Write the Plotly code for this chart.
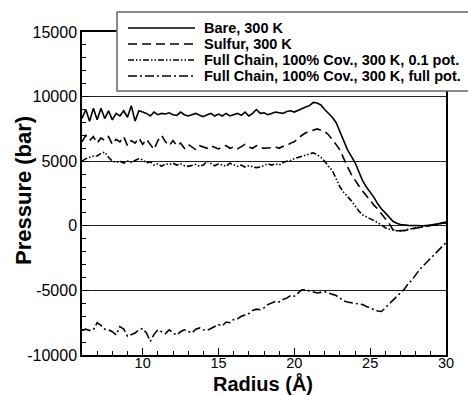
import plotly.graph_objects as go

# ---------------- data ----------------
r_bare = [6.0, 6.25, 6.5, 6.75, 7.0, 7.25, 7.5, 7.75, 8.0, 8.25, 8.5, 8.75, 9.0, 9.25, 9.5, 9.75,
          10.0, 10.25, 10.5, 10.75, 11.0, 11.25, 11.5, 11.75, 12.0, 12.25, 12.5, 12.75, 13.0, 13.25,
          13.5, 13.75, 14.0, 14.25, 14.5, 14.75, 15.0, 15.25, 15.5, 15.75, 16.0, 16.25, 16.5, 16.75,
          17.0, 17.25, 17.5, 17.75, 18.0, 18.25, 18.5, 18.75, 19.0, 19.25, 19.5, 19.75, 20.0, 20.25,
          20.5, 20.75, 21.0, 21.25, 21.5, 21.75, 22.0, 22.25, 22.5, 22.75, 23.0, 23.25, 23.5, 23.75,
          24.0, 24.25, 24.5, 24.75, 25.0, 25.25, 25.5, 25.75, 26.0, 26.25, 26.5, 26.75, 27.0, 27.5,
          28.0, 28.5, 29.0, 29.5, 30.0]
p_bare = [8300, 9000, 8100, 9100, 8200, 9100, 8300, 8900, 8200, 8700, 8500, 8900, 8400, 9300, 8100, 8900,
          8800, 8700, 8500, 8800, 8600, 8700, 8650, 8750, 8600, 8550, 8800, 8600, 8500, 8600,
          8700, 8550, 8450, 8600, 8700, 8500, 8650, 8500, 8700, 8500, 8600, 8700, 8550, 8800,
          8500, 8700, 9000, 8700, 8750, 8600, 8700, 8800, 8750, 8700, 8850, 8900, 8800, 8950,
          9100, 9200, 9300, 9550, 9500, 9350, 9000, 8700, 8400, 8000, 7300, 6600, 5900, 5400,
          4900, 4200, 3500, 3000, 2600, 2200, 1700, 1300, 1000, 650, 350, 200, 100, 30,
          0, 0, 50, 150, 250]

r_sulfur = [6.0, 6.25, 6.5, 6.75, 7.0, 7.25, 7.5, 7.75, 8.0, 8.25, 8.5, 8.75, 9.0, 9.25, 9.5, 9.75,
            10.0, 10.25, 10.5, 10.75, 11.0, 11.25, 11.5, 11.75, 12.0, 12.25, 12.5, 12.75, 13.0, 13.25,
            13.5, 13.75, 14.0, 14.25, 14.5, 14.75, 15.0, 15.25, 15.5, 15.75, 16.0, 16.25, 16.5, 16.75,
            17.0, 17.25, 17.5, 17.75, 18.0, 18.25, 18.5, 18.75, 19.0, 19.25, 19.5, 19.75, 20.0, 20.25,
            20.5, 20.75, 21.0, 21.25, 21.5, 21.75, 22.0, 22.25, 22.5, 22.75, 23.0, 23.25, 23.5, 23.75,
            24.0, 24.25, 24.5, 24.75, 25.0, 25.25, 25.5, 25.75, 26.0, 26.25, 26.5, 26.75, 27.0, 27.25,
            27.5, 27.75, 28.0, 28.5, 29.0, 29.5, 30.0]
p_sulfur = [6500, 7000, 6600, 6900, 6400, 6800, 6600, 6900, 6300, 6700, 6500, 6900, 6200, 6600, 6400, 6800,
            6300, 6700, 6300, 5900, 6600, 7000, 6500, 6200, 6600, 6200, 6400, 6000, 6300, 6100,
            5900, 6200, 6100, 6000, 6200, 6100, 5950, 6100, 6200, 6000, 6100, 5950, 6100, 6300,
            6100, 6000, 6200, 6050, 6000, 6000, 6050, 6100, 6000, 6150, 6200, 6400, 6500, 6800,
            7000, 7200, 7300, 7400, 7500, 7400, 7300, 7050, 6700, 6300, 5880, 5200, 4570, 4000,
            3500, 3100, 2700, 2300, 1950, 1600, 1300, 900, 550, 200, -300, -370, -390, -380,
            -300, -250, -170, -80, 0, 100, 250]

r_chain01 = [6.0, 6.25, 6.5, 6.75, 7.0, 7.25, 7.5, 7.75, 8.0, 8.25, 8.5, 8.75, 9.0, 9.25, 9.5, 9.75,
             10.0, 10.25, 10.5, 10.75, 11.0, 11.25, 11.5, 11.75, 12.0, 12.25, 12.5, 12.75, 13.0, 13.25,
             13.5, 13.75, 14.0, 14.25, 14.5, 14.75, 15.0, 15.25, 15.5, 15.75, 16.0, 16.25, 16.5, 16.75,
             17.0, 17.25, 17.5, 17.75, 18.0, 18.25, 18.5, 18.75, 19.0, 19.25, 19.5, 19.75, 20.0, 20.25,
             20.5, 20.75, 21.0, 21.25, 21.5, 21.75, 22.0, 22.25, 22.5, 22.75, 23.0, 23.25, 23.5, 23.75,
             24.0, 24.25, 24.5, 24.75, 25.0, 25.25, 25.5, 25.75, 26.0, 26.25, 26.5, 26.75, 27.0, 27.25,
             27.5, 27.75, 28.0, 28.5, 29.0, 29.5, 30.0]
p_chain01 = [5000, 5200, 5300, 5400, 5400, 5600, 5700, 5300, 5000, 4900, 5000, 4850, 5000, 4900, 5050, 5200,
             5100, 4850, 4950, 4700, 4800, 4600, 4800, 4750, 4850, 4700, 4800, 4650, 4600, 4700,
             4750, 4600, 4700, 5000, 4800, 4650, 4800, 4700, 4600, 4850, 4750, 4600, 4700, 4550,
             4650, 4600, 4500, 4550, 4700, 4800, 4700, 4800, 4700, 4900, 5000, 5050, 5200, 5300,
             5400, 5500, 5600, 5650, 5500, 5300, 5000, 4600, 4300, 3700, 3020, 2600, 2300, 1950,
             1550, 1150, 850, 700, 550, 420, 250, 50, -150, -250, -320, -380, -380, -330,
             -280, -200, -150, -30, 50, 150, 300]

r_chainfull = [6.0, 6.25, 6.5, 6.75, 7.0, 7.25, 7.5, 7.75, 8.0, 8.25, 8.5, 8.75, 9.0, 9.25, 9.5, 9.75,
               10.0, 10.25, 10.5, 10.75, 11.0, 11.25, 11.5, 11.75, 12.0, 12.25, 12.5, 12.75, 13.0, 13.25,
               13.5, 13.75, 14.0, 14.25, 14.5, 14.75, 15.0, 15.25, 15.5, 15.75, 16.0, 16.25, 16.5, 16.75,
               17.0, 17.25, 17.5, 17.75, 18.0, 18.25, 18.5, 18.75, 19.0, 19.25, 19.5, 19.75, 20.0, 20.25,
               20.5, 20.75, 21.0, 21.25, 21.5, 21.75, 22.0, 22.25, 22.5, 22.75, 23.0, 23.25, 23.5, 23.75,
               24.0, 24.25, 24.5, 24.75, 25.0, 25.25, 25.5, 25.75, 26.0, 26.25, 26.5, 26.75, 27.0, 27.25,
               27.5, 27.75, 28.0, 28.25, 28.5, 28.75, 29.0, 29.25, 29.5, 29.75, 30.0]
p_chainfull = [-8100, -8000, -8100, -8050, -7500, -7700, -8000, -8050, -8200, -8450, -7800, -8000, -8550, -8400, -8300, -8050,
               -7950, -8300, -8950, -8400, -8050, -8200, -8350, -8050, -8300, -8450, -8200, -8050, -8150, -8300,
               -8000, -7900, -8050, -8100, -7950, -7800, -7650, -7750, -7450, -7500, -7250, -7200, -7000, -6900,
               -6800, -6550, -6450, -6500, -6350, -6100, -6000, -5850, -5900, -5700, -5600, -5400, -5450, -5200,
               -4950, -4950, -5050, -5100, -5200, -5150, -5100, -5200, -5300, -5400, -5600, -5800, -5900, -5950,
               -6000, -6000, -6100, -6250, -6350, -6450, -6600, -6630, -6350, -6050, -5750, -5450, -5150, -4900,
               -4500, -4200, -3800, -3400, -3100, -2800, -2500, -2200, -1950, -1650, -1300]

names = ["Bare, 300 K", "Sulfur, 300 K",
         "Full Chain, 100% Cov., 300 K, 0.1 pot.",
         "Full Chain, 100% Cov., 300 K, full pot."]
xs = [r_bare, r_sulfur, r_chain01, r_chainfull]
ys = [p_bare, p_sulfur, p_chain01, p_chainfull]

y_ticks = [-10000, -5000, 0, 5000, 10000, 15000]
x_ticks = [10, 15, 20, 25, 30]
x_title = "Radius (Å)"
y_title = "Pressure (bar)"

# ---------------- styling ----------------
dashes = ["solid", "9px,5px", "6px,2px,1.5px,2px,1.5px,2px", "9px,3px,2px,3px"]
W, H = 468, 395
ml, mr, mt, mb = 82, 22, 32, 40
pw, ph = W - ml - mr, H - mt - mb

FONT = "Liberation Sans, Arial, Helvetica, sans-serif"

fig = go.Figure()
for n, x, y, d in zip(names, xs, ys, dashes):
    fig.add_trace(go.Scatter(x=x, y=y, mode="lines", name=n, showlegend=False,
                             line=dict(color="black", width=1.6, dash=d)))

def px_x(p):
    return (p - ml) / pw

def px_y(p):
    return (H - mb - p) / ph

# manual legend (box, line samples, labels)
shapes = [dict(type="rect", xref="paper", yref="paper",
               x0=px_x(117), x1=px_x(475), y0=px_y(91), y1=px_y(12),
               line=dict(color="#666666", width=1.5), fillcolor="white", layer="above")]
annotations = []
row_y = [28, 44, 60, 76]
for n, d, ry in zip(names, dashes, row_y):
    shapes.append(dict(type="line", xref="paper", yref="paper",
                       x0=px_x(128), x1=px_x(195), y0=px_y(ry), y1=px_y(ry),
                       line=dict(color="black", width=1.6, dash=d), layer="above"))
    annotations.append(dict(xref="paper", yref="paper", x=px_x(202), y=px_y(ry),
                            xanchor="left", yanchor="middle", showarrow=False,
                            text="<b>" + n + "</b>",
                            font=dict(family=FONT, size=14.5, color="black")))

# axis titles as text placed like the reference
annotations.append(dict(xref="paper", yref="paper", x=px_x(23), y=px_y(191),
                        xanchor="center", yanchor="middle", showarrow=False,
                        textangle=-90, text="<b>" + y_title + "</b>",
                        font=dict(family=FONT, size=22, color="black")))
annotations.append(dict(xref="paper", yref="paper", x=px_x(263), y=px_y(397),
                        xanchor="center", yanchor="bottom", showarrow=False,
                        text="<b>" + x_title + "</b>",
                        font=dict(family=FONT, size=20, color="black")))

fig.update_layout(
    width=W, height=H,
    margin=dict(l=ml, r=mr, t=mt, b=mb, autoexpand=False),
    paper_bgcolor="white", plot_bgcolor="white",
    font=dict(family=FONT, color="black"),
    shapes=shapes, annotations=annotations,
    showlegend=False,
)
fig.update_xaxes(
    range=[6, 30], tickvals=x_ticks, ticktext=[str(v) for v in x_ticks],
    ticks="inside", ticklen=7, tickwidth=1, tickcolor="black",
    minor=dict(dtick=1, ticks="inside", ticklen=4, tickcolor="black", showgrid=False),
    showline=True, linecolor="black", linewidth=1.5, mirror=True,
    showgrid=False, zeroline=False, ticklabelstandoff=-6,
    tickfont=dict(family=FONT, size=14.5, color="black"),
)
fig.update_yaxes(
    range=[-10000, 15000], tickvals=y_ticks, ticktext=[str(v) for v in y_ticks],
    ticks="inside", ticklen=7, tickwidth=1, tickcolor="black",
    minor=dict(dtick=1000, ticks="inside", ticklen=4, tickcolor="black", showgrid=False),
    showline=True, linecolor="black", linewidth=1.5, mirror=True,
    showgrid=True, gridcolor="#222222", gridwidth=1, zeroline=False,
    tickfont=dict(family=FONT, size=16, color="black"),
)

fig.write_html("out.html")
